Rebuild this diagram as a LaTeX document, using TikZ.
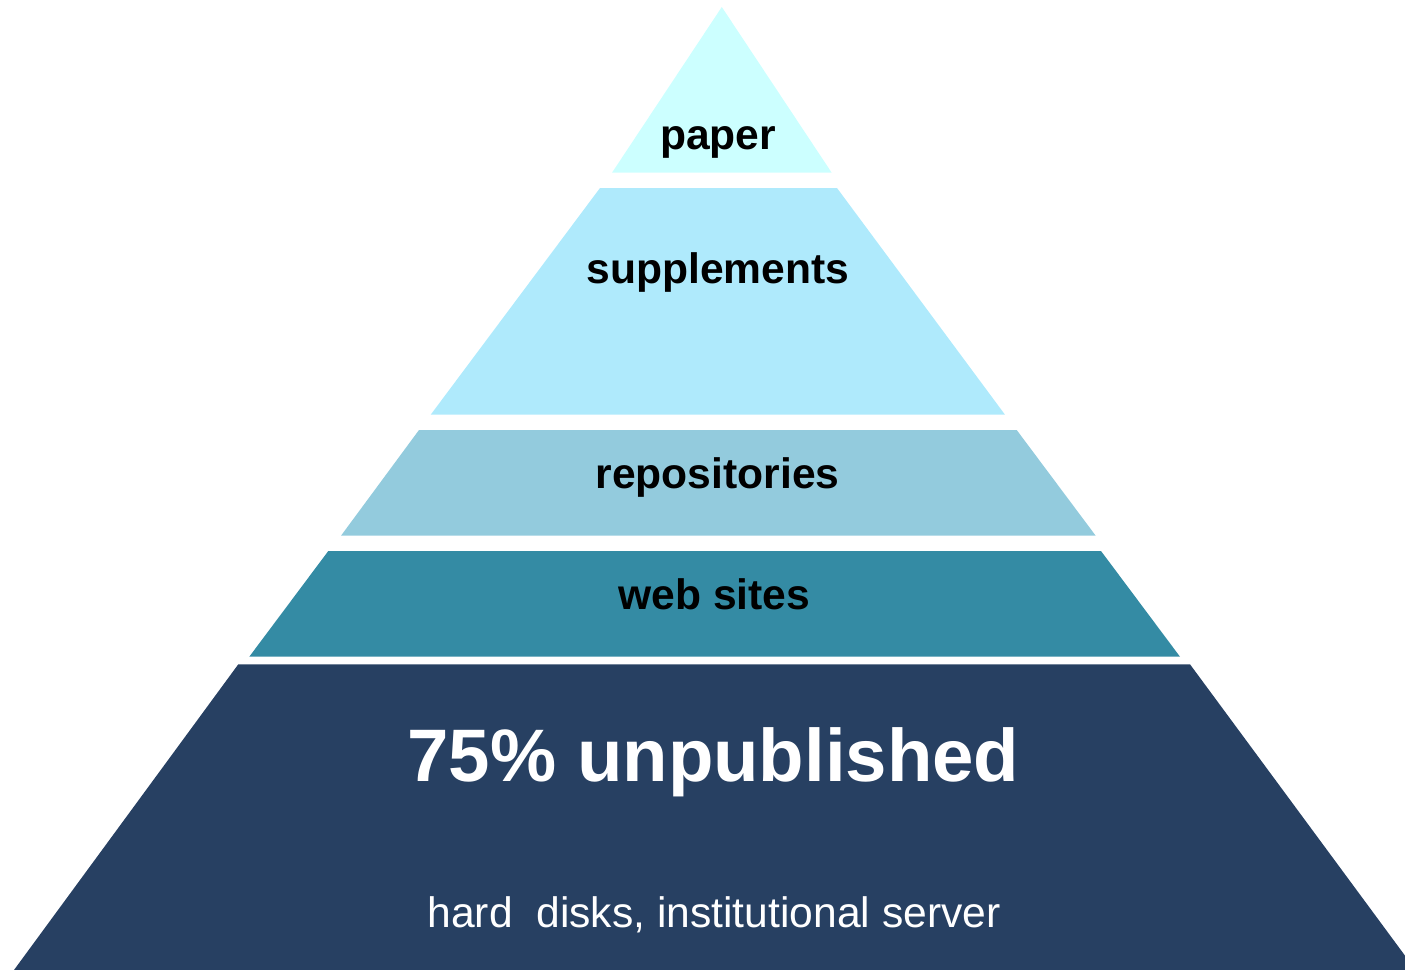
\documentclass[tikz,border=0pt]{standalone}
\usepackage{fontspec}
\setmainfont{Liberation Sans}
\usepackage{xcolor}
\usetikzlibrary{positioning}

\definecolor{paperc}{RGB}{204,255,255}
\definecolor{suppc}{RGB}{175,234,252}
\definecolor{repoc}{RGB}{147,203,221}
\definecolor{webc}{RGB}{52,139,164}
\definecolor{unpubc}{RGB}{39,64,98}

\tikzset{
    label text/.style={anchor=base, inner sep=0pt, font=\fontsize{21.3}{25}\selectfont\bfseries},
}

\begin{document}
\begin{tikzpicture}[x=0.5pt, y=-0.5pt]
    \useasboundingbox (0,0) rectangle (1405,970);
    \clip (0,0) rectangle (1405,970);

    % layers of the pyramid, top to bottom
    \fill[paperc] (721.8,7) -- (831.7,172.7) -- (612,172.7) -- cycle;
    \fill[suppc] (600,188) -- (837,188) -- (1005,414.7) -- (430.7,414.7) -- cycle;
    \fill[repoc] (419,430) -- (1016.7,430) -- (1095.7,535.7) -- (341,535.7) -- cycle;
    \fill[webc] (328.3,551) -- (1101,551) -- (1180,656.7) -- (249.3,656.7) -- cycle;
    \fill[unpubc] (238.3,664.3) -- (1190,664.3) -- (1415.6,970) -- (14,970) -- cycle;

    \node[label text] (paper) at (718,149) {paper};
    \node[label text] (supp) at (718,283.3) {supplements};
    \node[label text] (repo) at (717.5,488) {repositories};
    \node[label text] (web) at (714.5,609) {web sites};
    \node[label text, text=white, font=\fontsize{37.2}{44}\selectfont\bfseries] (unpub) at (713.5,781) {75\% unpublished};
    \node[anchor=base, inner sep=0pt, text=white, font=\fontsize{21.3}{25}\selectfont] (disks) at (714,927) {hard\ \ disks, institutional server};
\end{tikzpicture}
\end{document}
